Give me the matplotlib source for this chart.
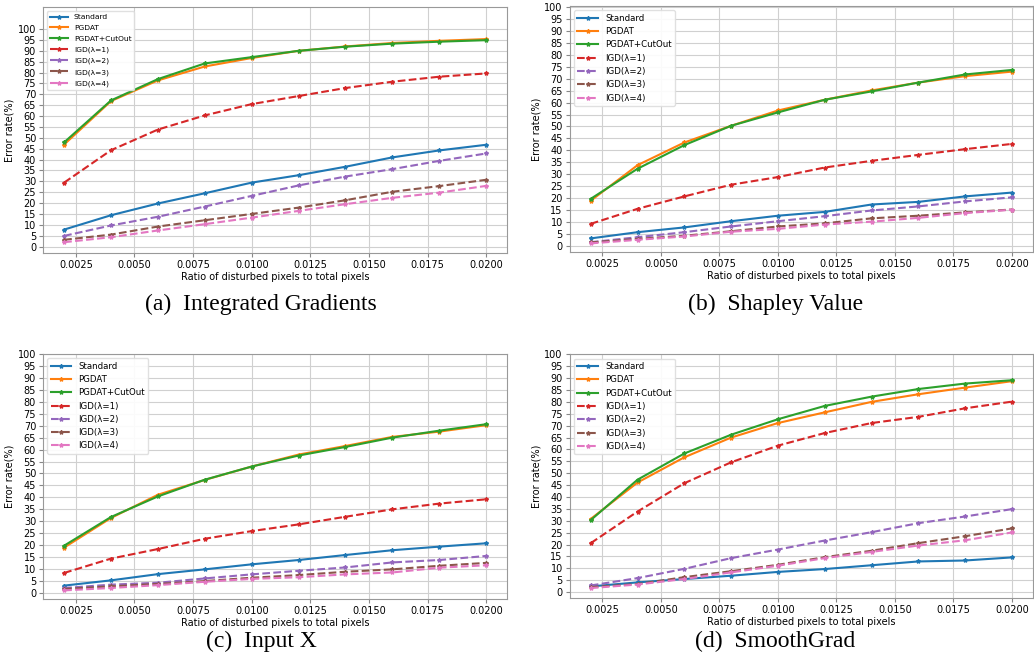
import numpy as np
import matplotlib.pyplot as plt

ratios = [0.002, 0.004, 0.006, 0.008, 0.010, 0.012, 0.014, 0.016, 0.018, 0.020]
labels = ["Standard", "PGDAT", "PGDAT+CutOut", "IGD(λ=1)", "IGD(λ=2)", "IGD(λ=3)", "IGD(λ=4)"]
colors = ["#1f77b4", "#ff7f0e", "#2ca02c", "#d62728", "#9467bd", "#8c564b", "#e377c2"]
styles = ["-", "-", "-", "--", "--", "--", "--"]

# (a) Integrated Gradients
ig_standard = [7.8, 14.4, 19.8, 24.5, 29.4, 32.8, 36.7, 41.0, 44.2, 46.8]
ig_pgdat = [46.9, 66.9, 76.4, 82.8, 86.7, 90.0, 92.0, 93.6, 94.6, 95.4]
ig_cutout = [47.9, 67.2, 77.0, 84.2, 87.1, 90.0, 91.9, 93.3, 94.2, 94.9]
ig_igd1 = [29.4, 44.3, 53.8, 60.3, 65.5, 69.2, 72.9, 75.8, 78.1, 79.6]
ig_igd2 = [4.9, 9.7, 13.7, 18.4, 23.3, 28.1, 32.2, 35.6, 39.4, 42.8]
ig_igd3 = [3.1, 5.5, 9.2, 12.1, 15.0, 17.9, 21.3, 25.2, 27.8, 30.7]
ig_igd4 = [2.0, 4.3, 7.4, 10.3, 13.3, 16.4, 19.5, 22.4, 24.8, 27.9]

# (b) Shapley Value
sv_standard = [3.1, 5.7, 7.7, 10.3, 12.6, 14.2, 17.3, 18.4, 20.7, 22.3]
sv_pgdat = [18.9, 33.8, 43.3, 50.3, 56.7, 61.2, 65.1, 68.4, 71.1, 73.0]
sv_cutout = [19.7, 32.3, 42.2, 50.3, 55.9, 61.2, 64.7, 68.4, 71.8, 73.7]
sv_igd1 = [9.2, 15.5, 20.7, 25.6, 28.8, 32.8, 35.6, 38.1, 40.5, 42.7]
sv_igd2 = [1.5, 3.6, 5.7, 8.1, 10.3, 12.4, 14.8, 16.5, 18.6, 20.3]
sv_igd3 = [1.4, 2.9, 4.2, 6.1, 8.1, 9.4, 11.5, 12.6, 14.0, 15.2]
sv_igd4 = [1.0, 2.5, 3.9, 5.9, 7.1, 8.9, 10.1, 11.7, 13.7, 15.1]

# (c) Input X
ix_standard = [3.1, 5.3, 7.9, 9.9, 12.0, 13.8, 15.9, 17.9, 19.4, 20.8]
ix_pgdat = [19.0, 31.4, 41.1, 47.3, 52.9, 57.9, 61.5, 65.3, 67.5, 70.2]
ix_cutout = [19.8, 31.8, 40.4, 47.4, 52.9, 57.5, 61.1, 65.0, 67.9, 70.6]
ix_igd1 = [8.4, 14.4, 18.4, 22.7, 25.9, 28.7, 31.9, 35.0, 37.4, 39.2]
ix_igd2 = [2.1, 3.5, 4.3, 6.1, 7.8, 9.3, 10.7, 12.8, 13.8, 15.5]
ix_igd3 = [1.7, 2.8, 3.8, 5.0, 6.4, 7.5, 8.9, 9.9, 11.4, 12.6]
ix_igd4 = [1.1, 2.1, 3.3, 4.7, 5.9, 6.6, 7.8, 8.6, 10.6, 11.6]

# (d) SmoothGrad
sg_standard = [2.4, 4.1, 5.5, 6.9, 8.5, 9.7, 11.3, 12.9, 13.3, 14.6]
sg_pgdat = [30.8, 46.1, 56.7, 65.0, 71.1, 75.6, 80.0, 83.2, 86.0, 88.7]
sg_cutout = [30.3, 47.3, 58.3, 66.2, 72.7, 78.3, 82.2, 85.4, 87.7, 89.1]
sg_igd1 = [20.6, 33.9, 45.8, 54.6, 61.6, 66.9, 71.1, 73.7, 77.3, 80.1]
sg_igd2 = [2.8, 5.9, 9.8, 14.3, 17.9, 21.7, 25.2, 29.0, 31.8, 34.9]
sg_igd3 = [2.1, 3.4, 6.3, 8.8, 11.5, 14.7, 17.4, 20.6, 23.5, 26.8]
sg_igd4 = [1.7, 3.2, 5.5, 8.3, 11.1, 14.3, 16.9, 19.6, 21.8, 25.1]

panels = [
    ("(a)  Integrated Gradients", [ig_standard, ig_pgdat, ig_cutout, ig_igd1, ig_igd2, ig_igd3, ig_igd4], (-3, 110), 5.4, 0.6),
    ("(b)  Shapley Value", [sv_standard, sv_pgdat, sv_cutout, sv_igd1, sv_igd2, sv_igd3, sv_igd4], (-2.5, 100.5), 6.2, 0.5),
    ("(c)  Input X", [ix_standard, ix_pgdat, ix_cutout, ix_igd1, ix_igd2, ix_igd3, ix_igd4], (-2.5, 100), 6.2, 0.5),
    ("(d)  SmoothGrad", [sg_standard, sg_pgdat, sg_cutout, sg_igd1, sg_igd2, sg_igd3, sg_igd4], (-2.5, 100), 6.2, 0.5),
]

# axes boxes in figure fractions
boxes = [
    [0.0416, 0.620, 0.449, 0.369],
    [0.551, 0.622, 0.448, 0.369],
    [0.0416, 0.1006, 0.449, 0.368],
    [0.551, 0.102, 0.448, 0.366],
]
caption_pos = [(0.252, 0.543), (0.750, 0.543), (0.253, 0.037), (0.750, 0.037)]

fig = plt.figure(figsize=(10.34, 6.66), dpi=100)

for (caption, series, ylim, legsize, legspace), box, cpos in zip(panels, boxes, caption_pos):
    ax = fig.add_axes(box)
    for vals, lab, col, ls in zip(series, labels, colors, styles):
        ax.plot(ratios, vals, color=col, linestyle=ls, linewidth=1.5,
                marker='*', markersize=3, label=lab)
    ax.set_ylim(*ylim)
    ax.set_yticks(np.arange(0, 101, 5))
    ax.set_xticks(np.arange(0.0025, 0.02001, 0.0025))
    ax.xaxis.set_major_formatter(plt.FormatStrFormatter('%.4f'))
    ax.tick_params(labelsize=7.0, length=3, pad=2, color='#888888')
    ax.grid(True, color='#d0d0d0', linewidth=0.8)
    for sp in ax.spines.values():
        sp.set_color('#999999')
    ax.set_xlabel("Ratio of disturbed pixels to total pixels", fontsize=7.0, labelpad=1.5)
    ax.set_ylabel("Error rate(%)", fontsize=7.0, labelpad=2)
    ax.legend(loc='upper left', fontsize=legsize, framealpha=0.9, edgecolor='#dddddd',
              handlelength=2.4, labelspacing=legspace, borderpad=0.4)
    fig.text(cpos[0], cpos[1], caption, ha='center', va='center',
             family='Liberation Serif', fontsize=17)

fig.savefig("out.png", dpi=100)
